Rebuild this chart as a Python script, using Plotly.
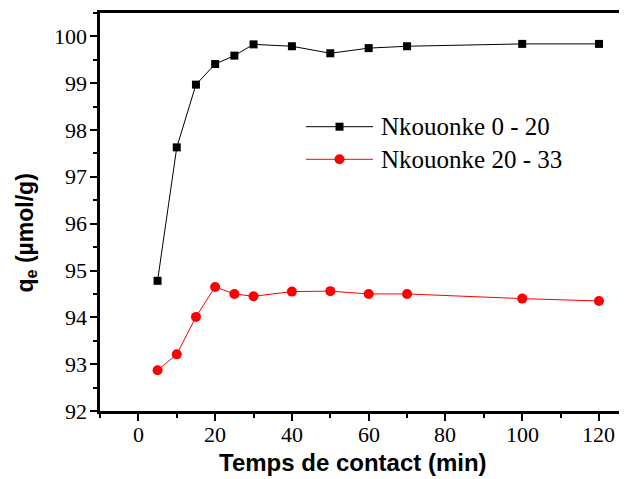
import plotly.graph_objects as go

# Data
time_min = [5, 10, 15, 20, 25, 30, 40, 50, 60, 70, 100, 120]
qe_0_20 = [94.78, 97.63, 98.97, 99.41, 99.59, 99.83, 99.79, 99.64, 99.75, 99.79, 99.84, 99.84]
qe_20_33 = [92.87, 93.21, 94.01, 94.65, 94.50, 94.45, 94.55, 94.56, 94.50, 94.50, 94.40, 94.35]
series_names = ["Nkouonke 0 - 20", "Nkouonke 20 - 33"]
x_ticks = [0, 20, 40, 60, 80, 100, 120]
y_ticks = [92, 93, 94, 95, 96, 97, 98, 99, 100]

# page body has an 8px margin, so the figure is 8px smaller than the window
W, H = 619, 471
ML, MR, MT, MB = 92, 0, 5, 68
PW, PH = W - ML - MR, H - MT - MB
OFF = 8  # body margin

SERIF = "Liberation Serif"
SANS = "Liberation Sans"


def px_x(p):
    # reference window pixel -> paper x
    return (p - OFF - ML) / PW


def px_y(p):
    # reference window pixel -> paper y
    return (H - MB - (p - OFF)) / PH


fig = go.Figure()
fig.add_trace(go.Scatter(
    x=time_min, y=qe_0_20, mode="lines+markers", name=series_names[0],
    line=dict(color="black", width=1),
    marker=dict(symbol="square", size=8, color="black"),
    showlegend=False,
))
fig.add_trace(go.Scatter(
    x=time_min, y=qe_20_33, mode="lines+markers", name=series_names[1],
    line=dict(color="#ff0000", width=1),
    marker=dict(symbol="circle", size=10, color="#ff0000"),
    showlegend=False,
))

# Manual legend (Origin style: long line sample with centred marker)
legend_rows = [
    (series_names[0], "black", "rect", 126.7, 4),
    (series_names[1], "#ff0000", "circle", 159.3, 5),
]
shapes = []
annotations = []
for name, col, kind, py, half in legend_rows:
    shapes.append(dict(type="line", xref="paper", yref="paper",
                       x0=px_x(306), x1=px_x(373), y0=px_y(py), y1=px_y(py),
                       line=dict(color=col, width=1)))
    shapes.append(dict(type=kind, xref="paper", yref="paper",
                       xsizemode="pixel", ysizemode="pixel",
                       xanchor=px_x(339.5), yanchor=px_y(py),
                       x0=-half, x1=half, y0=-half, y1=half,
                       fillcolor=col, line=dict(color=col, width=0)))
    annotations.append(dict(text=name, xref="paper", yref="paper",
                            x=px_x(379), y=px_y(py), xanchor="left", yanchor="middle",
                            showarrow=False,
                            font=dict(family=SERIF, size=25, color="black")))

# tick labels (serif), placed on the axes' own data scale
for t in x_ticks:
    annotations.append(dict(text=str(t), xref="x", yref="paper",
                            x=t, y=px_y(434), xanchor="center", yanchor="middle",
                            showarrow=False,
                            font=dict(family=SERIF, size=22, color="black")))
for t in y_ticks:
    annotations.append(dict(text=str(t), xref="paper", yref="y",
                            x=px_x(89), y=t, xanchor="right", yanchor="middle",
                            showarrow=False,
                            font=dict(family=SERIF, size=22, color="black")))

# axis titles
annotations.append(dict(text="Temps de contact (min)", xref="paper", yref="paper",
                        x=px_x(353), y=px_y(463), xanchor="center", yanchor="middle",
                        showarrow=False,
                        font=dict(family=SANS, size=24, color="black", weight="bold")))
annotations.append(dict(text="q<sub>e</sub> (µmol/g)", xref="paper", yref="paper",
                        x=px_x(26.5), y=px_y(233), xanchor="center", yanchor="middle",
                        textangle=-90, showarrow=False,
                        font=dict(family=SANS, size=23, color="black", weight="bold")))

axis_common = dict(
    showgrid=False, zeroline=False, showline=True, linecolor="black", linewidth=3,
    ticks="outside", ticklen=7, tickwidth=2, tickcolor="black",
    showticklabels=False,
)

fig.update_layout(
    width=W, height=H,
    font=dict(family=SERIF, size=22, color="black"),
    margin=dict(l=ML, r=MR, t=MT, b=MB, pad=0),
    plot_bgcolor="white", paper_bgcolor="white",
    shapes=shapes, annotations=annotations,
    xaxis=dict(
        range=[-10, 127.3], tickvals=x_ticks, mirror=True,
        minor=dict(dtick=10, tick0=0, ticks="outside", ticklen=4, tickwidth=2, tickcolor="black"),
        **axis_common,
    ),
    yaxis=dict(
        range=[92, 100.5], tickvals=y_ticks, mirror=False,
        minor=dict(dtick=0.5, tick0=92, ticks="outside", ticklen=4, tickwidth=2, tickcolor="black"),
        **axis_common,
    ),
)

fig.write_html("out.html")
